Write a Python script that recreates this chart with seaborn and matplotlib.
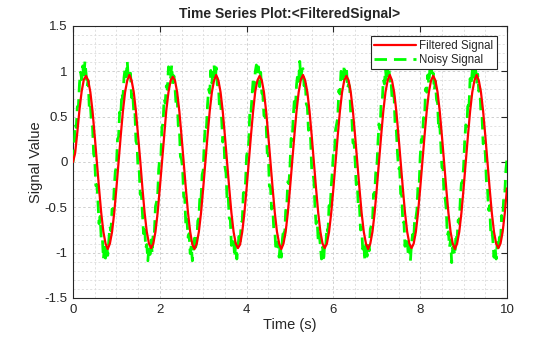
import numpy as np
import pandas as pd
import matplotlib
matplotlib.use("Agg")
import matplotlib.pyplot as plt
import seaborn as sns
from matplotlib.ticker import MultipleLocator

# Noisy measurement, sampled every 0.025 s (one row per second)
noisy_signal = [
    0.00, 0.11, 0.42, 0.38, 0.61, 0.62, 0.87, 0.99, 0.91, 1.06, 0.92, 1.11, 0.98, 0.83, 0.90, 0.60, 0.64, 0.43, 0.39, 0.09,
    0.04, -0.26, -0.25, -0.44, -0.68, -0.60, -0.84, -0.82, -1.07, -0.94, -1.06, -0.90, -1.03, -0.87, -0.71, -0.76, -0.52, -0.54, -0.28, -0.10,
    -0.06, 0.25, 0.28, 0.55, 0.51, 0.76, 0.70, 0.93, 1.03, 0.94, 1.11, 0.92, 0.97, 0.98, 0.71, 0.77, 0.55, 0.57, 0.23, 0.19,
    -0.09, -0.09, -0.36, -0.35, -0.57, -0.79, -0.70, -0.95, -0.91, -1.09, -0.92, -1.02, -0.86, -1.01, -0.76, -0.78, -0.49, -0.44, -0.37, -0.08,
    0.05, 0.06, 0.38, 0.43, 0.70, 0.65, 0.84, 0.80, 1.05, 1.03, 0.93, 1.07, 0.84, 0.95, 0.82, 0.63, 0.71, 0.40, 0.38, 0.06,
    0.03, -0.07, -0.38, -0.40, -0.70, -0.63, -0.83, -0.79, -1.01, -0.92, -1.09, -0.95, -0.84, -0.94, -0.89, -0.65, -0.62, -0.36, -0.41, -0.14,
    -0.09, 0.22, 0.41, 0.38, 0.63, 0.80, 0.76, 1.01, 0.87, 1.02, 1.07, 0.89, 1.04, 0.85, 0.87, 0.59, 0.67, 0.47, 0.22, 0.27,
    -0.05, -0.12, -0.41, -0.37, -0.62, -0.64, -0.92, -0.84, -0.86, -1.05, -0.90, -1.07, -0.93, -0.82, -0.90, -0.67, -0.65, -0.34, -0.33, -0.23,
    0.07, 0.12, 0.22, 0.56, 0.53, 0.73, 0.90, 0.79, 1.00, 1.07, 0.97, 1.05, 0.83, 0.99, 0.76, 0.74, 0.51, 0.52, 0.42, 0.10,
    0.09, -0.27, -0.27, -0.52, -0.49, -0.73, -0.75, -0.98, -0.92, -0.88, -1.05, -0.91, -1.05, -0.85, -0.74, -0.82, -0.54, -0.48, -0.22, -0.24,
    -0.04, 0.26, 0.24, 0.50, 0.68, 0.60, 0.85, 0.96, 0.89, 1.11, 0.91, 1.02, 1.03, 0.84, 0.91, 0.64, 0.61, 0.35, 0.37, 0.25,
    -0.08, -0.11, -0.20, -0.49, -0.68, -0.64, -0.87, -0.79, -0.93, -1.07, -0.94, -1.10, -0.88, -0.92, -0.72, -0.77, -0.48, -0.53, -0.27, -0.11,
    0.10, 0.08, 0.36, 0.42, 0.49, 0.79, 0.75, 1.00, 0.98, 0.90, 1.07, 0.95, 1.05, 0.81, 0.86, 0.83, 0.52, 0.49, 0.21, 0.22,
    0.02, -0.25, -0.23, -0.51, -0.48, -0.75, -0.72, -0.96, -0.90, -1.09, -0.88, -1.04, -0.92, -0.98, -0.74, -0.70, -0.67, -0.35, -0.37, -0.12,
    -0.07, 0.20, 0.42, 0.36, 0.65, 0.66, 0.91, 0.86, 1.03, 0.88, 1.05, 1.08, 0.89, 0.92, 0.71, 0.78, 0.70, 0.37, 0.35, 0.11,
    -0.07, -0.06, -0.35, -0.37, -0.68, -0.66, -0.93, -0.83, -0.85, -1.03, -0.93, -1.09, -0.90, -0.80, -0.87, -0.60, -0.62, -0.53, -0.25, -0.26,
    0.06, 0.25, 0.23, 0.49, 0.48, 0.81, 0.77, 0.96, 0.86, 1.04, 1.12, 0.93, 0.98, 0.79, 0.89, 0.69, 0.65, 0.36, 0.41, 0.19,
    -0.06, -0.05, -0.39, -0.40, -0.52, -0.81, -0.77, -0.94, -0.86, -1.11, -0.94, -0.97, -1.03, -0.79, -0.85, -0.64, -0.68, -0.40, -0.23, -0.22,
    -0.05, 0.23, 0.41, 0.39, 0.67, 0.62, 0.92, 0.85, 1.01, 1.08, 0.93, 1.03, 0.85, 0.97, 0.78, 0.81, 0.53, 0.50, 0.20, 0.23,
    0.09, -0.21, -0.28, -0.53, -0.48, -0.77, -0.73, -0.87, -1.05, -0.94, -1.07, -0.89, -0.99, -0.83, -0.90, -0.59, -0.64, -0.38, -0.34, -0.08,
    0.03,
]

# Low-pass filtered output, sampled every 0.05 s (one row per second)
filtered_signal = [
    0.00, 0.10, 0.33, 0.58, 0.78, 0.91, 0.95, 0.90, 0.77, 0.56, 0.29, 0.00, -0.29, -0.56, -0.77, -0.90, -0.96, -0.90, -0.77, -0.56,
    -0.29, 0.00, 0.29, 0.56, 0.77, 0.90, 0.96, 0.90, 0.77, 0.56, 0.29, 0.01, -0.29, -0.56, -0.77, -0.90, -0.95, -0.90, -0.77, -0.56,
    -0.29, 0.00, 0.29, 0.57, 0.77, 0.90, 0.94, 0.90, 0.77, 0.56, 0.29, 0.00, -0.29, -0.56, -0.77, -0.91, -0.96, -0.90, -0.77, -0.56,
    -0.29, 0.00, 0.29, 0.56, 0.77, 0.90, 0.96, 0.90, 0.77, 0.56, 0.29, 0.00, -0.29, -0.56, -0.77, -0.90, -0.95, -0.91, -0.77, -0.56,
    -0.29, 0.00, 0.29, 0.56, 0.78, 0.90, 0.95, 0.90, 0.77, 0.56, 0.29, 0.00, -0.29, -0.56, -0.77, -0.90, -0.96, -0.90, -0.77, -0.56,
    -0.29, 0.00, 0.29, 0.56, 0.77, 0.91, 0.96, 0.90, 0.77, 0.56, 0.29, 0.00, -0.29, -0.56, -0.77, -0.90, -0.95, -0.90, -0.77, -0.56,
    -0.29, 0.00, 0.29, 0.56, 0.77, 0.90, 0.95, 0.90, 0.77, 0.56, 0.29, 0.00, -0.29, -0.56, -0.77, -0.90, -0.96, -0.90, -0.77, -0.56,
    -0.29, 0.00, 0.29, 0.56, 0.77, 0.90, 0.96, 0.90, 0.77, 0.56, 0.29, 0.00, -0.29, -0.56, -0.77, -0.90, -0.95, -0.90, -0.77, -0.56,
    -0.29, 0.00, 0.29, 0.56, 0.77, 0.90, 0.95, 0.90, 0.77, 0.56, 0.29, 0.00, -0.29, -0.56, -0.77, -0.90, -0.96, -0.90, -0.77, -0.56,
    -0.29, 0.00, 0.29, 0.56, 0.77, 0.90, 0.96, 0.90, 0.77, 0.56, 0.29, 0.00, -0.29, -0.56, -0.77, -0.90, -0.95, -0.90, -0.77, -0.56,
    -0.29,
]

x_ticks = [0, 2, 4, 6, 8, 10]
y_ticks = [-1.5, -1, -0.5, 0, 0.5, 1, 1.5]
y_tick_labels = ["-1.5", "-1", "-0.5", "0", "0.5", "1", "1.5"]

# Sample times (s) for each series
t_noisy = np.round(np.arange(len(noisy_signal)) * 0.025, 3)
t_filtered = np.round(np.arange(len(filtered_signal)) * 0.05, 3)

df_noisy = pd.DataFrame({"t": t_noisy, "value": noisy_signal})
df_filtered = pd.DataFrame({"t": t_filtered, "value": filtered_signal})

sns.set_style("white")
plt.rcParams["font.family"] = ["Liberation Sans", "DejaVu Sans"]
plt.rcParams["xtick.direction"] = "in"
plt.rcParams["ytick.direction"] = "in"

fig = plt.figure(figsize=(5.6, 3.37), dpi=100)
ax = fig.add_axes([73 / 560, 1 - 298 / 337, 434 / 560, 272 / 337])

# Filtered trace drawn above the noisy one, but listed first in the legend
sns.lineplot(data=df_filtered, x="t", y="value", ax=ax, color="#ff0000", linewidth=1.6,
             label="Filtered Signal", zorder=5)
sns.lineplot(data=df_noisy, x="t", y="value", ax=ax, color="#00ff00", linewidth=2.0,
             linestyle=(0, (4.5, 2.5)), label="Noisy Signal", zorder=4)

ax.set_xlim(0, 10)
ax.set_ylim(-1.5, 1.5)
ax.set_xticks(x_ticks)
ax.set_xticklabels([str(v) for v in x_ticks])
ax.set_yticks(y_ticks)
ax.set_yticklabels(y_tick_labels)
ax.xaxis.set_minor_locator(MultipleLocator(0.5))
ax.yaxis.set_minor_locator(MultipleLocator(0.1))

ax.grid(True, which="major", linestyle=(0, (2.5, 2.5)), color="#cfcfcf", linewidth=0.7)
ax.grid(True, which="minor", linestyle=(0, (2.5, 2.5)), color="#dcdcdc", linewidth=0.6)
ax.set_axisbelow(True)

ax.tick_params(which="major", length=4, width=0.8, labelsize=9.5, colors="#262626",
               top=True, right=True, pad=4)
ax.tick_params(which="minor", length=0)
for s in ax.spines.values():
    s.set_color("#262626")
    s.set_linewidth(0.8)

ax.set_title("Time Series Plot:<FilteredSignal>", fontsize=10, fontweight="bold", pad=6)
ax.set_xlabel("Time (s)", fontsize=10.5, color="#262626", labelpad=2)
ax.set_ylabel("Signal Value", fontsize=10.5, color="#262626", labelpad=1)

leg = ax.legend(loc="upper right", fontsize=8.3, frameon=True, fancybox=False,
                handlelength=3.6, borderpad=0.3, labelspacing=0.15,
                handletextpad=0.3, borderaxespad=0.9)
leg.get_frame().set_edgecolor("#262626")
leg.get_frame().set_linewidth(0.8)
leg.get_frame().set_alpha(1)
leg.set_zorder(10)

fig.savefig("out.png", dpi=100)
